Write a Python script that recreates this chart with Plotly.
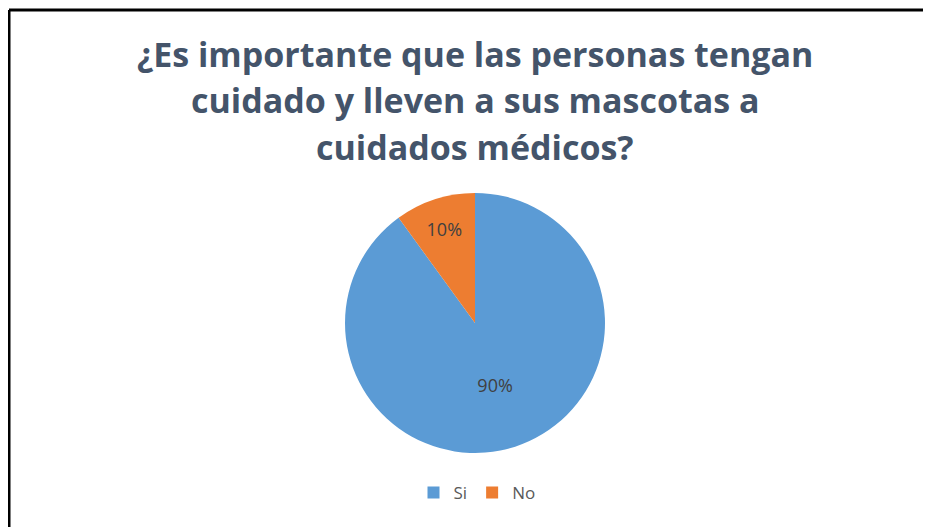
import plotly.graph_objects as go

labels = ["Si", "No"]
values = [90, 10]
colors = ["#5B9BD5", "#ED7D31"]
title_lines = ["¿Es importante que las personas tengan",
               "cuidado y lleven a sus mascotas a",
               "cuidados médicos?"]

W, H = 931, 527
OFF = 8  # page body margin
cx, cy, r = 475 - OFF, 323 - OFF, 130

fig = go.Figure(go.Pie(
    labels=labels, values=values, sort=False, direction="clockwise", rotation=0,
    marker=dict(colors=colors, line=dict(color="white", width=0)),
    texttemplate="%{percent:.0%}", textposition="inside",
    insidetextorientation="horizontal",
    textfont=dict(family="Open Sans", size=18, color="#404040"),
    domain=dict(x=[(cx - r) / W, (cx + r) / W], y=[(H - cy - r) / H, (H - cy + r) / H]),
    hoverinfo="skip",
))

title_y = [54 - OFF, 100 - OFF, 147 - OFF]
annotations = []
for line, yy in zip(title_lines, title_y):
    annotations.append(dict(text=f"<b>{line}</b>", x=(475 - OFF) / W, y=1 - yy / H, xref="paper", yref="paper",
                            xanchor="center", yanchor="middle", showarrow=False,
                            font=dict(family="Open Sans", size=34, color="#44546A")))

bx, by = 9 - OFF, 10 - OFF
shapes = [
    dict(type="line", xref="paper", yref="paper", x0=bx / W, x1=bx / W, y0=0, y1=1 - by / H,
         line=dict(color="black", width=3)),
    dict(type="line", xref="paper", yref="paper", x0=bx / W, x1=1, y0=1 - by / H, y1=1 - by / H,
         line=dict(color="black", width=3)),
]

fig.update_layout(
    width=W, height=H, margin=dict(l=0, r=0, t=0, b=0),
    paper_bgcolor="white", plot_bgcolor="white",
    annotations=annotations, shapes=shapes,
    showlegend=True,
    legend=dict(orientation="h", x=(477 - OFF) / W, xanchor="center", y=1 - (493 - OFF) / H, yanchor="middle",
                font=dict(family="Open Sans", size=17, color="#595959"),
                itemwidth=30, traceorder="normal"),
)

fig.write_html("out.html")
